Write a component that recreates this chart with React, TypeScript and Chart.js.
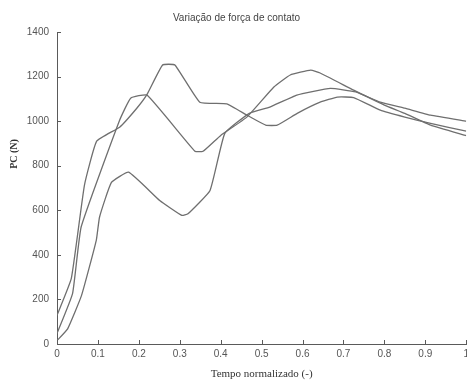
import React, { useEffect, useRef } from "react";
import { Chart, registerables } from "chart.js";

Chart.register(...registerables);

// Contact force curves: normalized time (x) vs PC in newtons (y)
const curveAX = [0, 0.035, 0.067, 0.097, 0.153, 0.195, 0.22, 0.258, 0.288, 0.349, 0.415, 0.464, 0.51, 0.538, 0.587, 0.643, 0.685, 0.725, 0.79, 0.85, 0.913, 1.0];
const curveAY = [128, 294, 712, 910, 973, 1058, 1120, 1252, 1252, 1085, 1078, 1027, 982, 982, 1035, 1085, 1108, 1106, 1049, 1018, 990, 955];

const curveBX = [0, 0.038, 0.059, 0.153, 0.18, 0.22, 0.337, 0.357, 0.4, 0.464, 0.53, 0.57, 0.62, 0.643, 0.725, 0.8, 0.85, 0.913, 1.0];
const curveBY = [47, 226, 525, 1004, 1103, 1117, 865, 865, 936, 1018, 1153, 1207, 1229, 1216, 1139, 1072, 1035, 982, 935];

const curveCX = [0, 0.026, 0.06, 0.096, 0.104, 0.133, 0.175, 0.251, 0.305, 0.32, 0.374, 0.41, 0.47, 0.52, 0.586, 0.668, 0.73, 0.79, 0.85, 0.913, 1.0];
const curveCY = [15, 68, 218, 465, 570, 725, 771, 644, 577, 584, 689, 945, 1035, 1063, 1117, 1147, 1131, 1085, 1058, 1027, 1000];

const xTicks = [0, 0.1, 0.2, 0.3, 0.4, 0.5, 0.6, 0.7, 0.8, 0.9, 1];
const yTicks = [0, 200, 400, 600, 800, 1000, 1200, 1400];

const toPoints = (xs: number[], ys: number[]) => xs.map((x, i) => ({ x, y: ys[i] }));

const LINE = "#6f6f6f";
const AXIS = "#5a5a5a";

// Draws inward tick marks along the left and bottom axes, plus the rotated y title
const axisDecor = {
  id: "axisDecor",
  afterDraw(chart: any) {
    const { ctx, chartArea, scales } = chart;
    const xs = scales.x;
    const ys = scales.y;
    ctx.save();
    ctx.strokeStyle = AXIS;
    ctx.lineWidth = 1;
    ctx.beginPath();
    xTicks.forEach((v) => {
      const px = Math.round(xs.getPixelForValue(v)) + 0.5;
      ctx.moveTo(px, chartArea.bottom);
      ctx.lineTo(px, chartArea.bottom - 4);
    });
    yTicks.forEach((v) => {
      const py = Math.round(ys.getPixelForValue(v)) + 0.5;
      ctx.moveTo(chartArea.left, py);
      ctx.lineTo(chartArea.left + 4, py);
    });
    ctx.stroke();

    ctx.translate(14, 154);
    ctx.rotate(-Math.PI / 2);
    ctx.fillStyle = "#333";
    ctx.font = "bold 10px 'Liberation Serif', 'DejaVu Serif', serif";
    ctx.textAlign = "center";
    ctx.textBaseline = "middle";
    ctx.fillText("PC (N)", 0, 0);
    ctx.restore();
  },
};

export default function App() {
  const canvasRef = useRef<HTMLCanvasElement | null>(null);

  useEffect(() => {
    const canvas = canvasRef.current;
    if (!canvas) return;
    const mk = (xs: number[], ys: number[]) => ({
      data: toPoints(xs, ys),
      borderColor: LINE,
      borderWidth: 1.3,
      pointRadius: 0,
      tension: 0.12,
      fill: false,
    });
    const chart = new Chart(canvas, {
      type: "line",
      data: {
        datasets: [mk(curveAX, curveAY), mk(curveBX, curveBY), mk(curveCX, curveCY)],
      },
      options: {
        animation: false,
        responsive: false,
        maintainAspectRatio: false,
        layout: { padding: { left: 0, right: 0, top: 0, bottom: 0 } },
        plugins: {
          legend: { display: false },
          tooltip: { enabled: false },
          title: {
            display: true,
            text: "Variação de força de contato",
            color: "#444",
            font: { family: "'Liberation Sans', Arial, sans-serif", size: 10, weight: "normal" as any, lineHeight: 1.2 },
            padding: { top: 12, bottom: 8 },
          },
        },
        scales: {
          x: {
            type: "linear",
            min: 0,
            max: 1,
            afterBuildTicks: (scale: any) => {
              scale.ticks = xTicks.map((v) => ({ value: v }));
            },
            afterFit: (scale: any) => {
              scale.height = 37;
            },
            grid: { display: false, drawTicks: false },
            border: { display: true, color: AXIS, width: 1 },
            ticks: {
              color: "#555",
              padding: 4,
              maxRotation: 0,
              autoSkip: false,
              font: { family: "'Liberation Sans', Arial, sans-serif", size: 10 },
              callback: (v: any) => String(Number(v)),
            },
            title: {
              display: true,
              text: "Tempo normalizado (-)",
              color: "#333",
              font: { family: "'Liberation Serif', 'Times New Roman', serif", size: 11 },
              padding: { top: 0, bottom: 0 },
            },
          },
          y: {
            type: "linear",
            min: 0,
            max: 1400,
            afterBuildTicks: (scale: any) => {
              scale.ticks = yTicks.map((v) => ({ value: v }));
            },
            afterFit: (scale: any) => {
              scale.width = 57;
            },
            grid: { display: false, drawTicks: false },
            border: { display: true, color: AXIS, width: 1 },
            ticks: {
              color: "#555",
              padding: 8,
              font: { family: "'Liberation Sans', Arial, sans-serif", size: 10 },
              callback: (v: any) => String(Number(v)),
            },
          },
        },
      },
      plugins: [axisDecor],
    });
    return () => chart.destroy();
  }, []);

  return (
    <div style={{ position: "fixed", left: 0, top: 0, width: 467, height: 381, overflow: "hidden", background: "#fff" }}>
      <canvas ref={canvasRef} width={473} height={381} style={{ display: "block" }} />
    </div>
  );
}
